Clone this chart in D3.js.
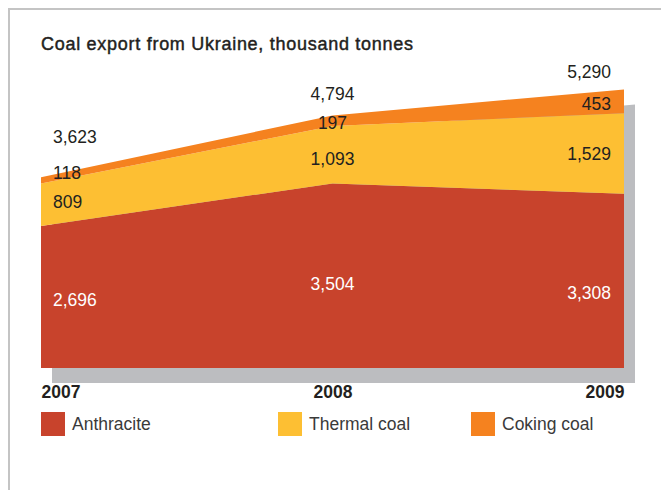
<!DOCTYPE html>
<html><head><meta charset="utf-8">
<script src="https://cdn.jsdelivr.net/npm/d3@7/dist/d3.min.js"></script>
<style>
body{margin:0;background:#fff;}
text{font-family:"Liberation Sans",Arial,sans-serif;}
</style></head>
<body><svg id="c" width="661" height="490"></svg>
<script>
const years = ["2007","2008","2009"];
const anthracite = [2696, 3504, 3308];
const thermal = [809, 1093, 1529];
const coking = [118, 197, 453];
const totals = [3623, 4794, 5290];
const seriesNames = ["Anthracite","Thermal coal","Coking coal"];
const colors = ["#C8432C","#FDBF33","#F5821F"];

const svg = d3.select("#c");
// frame
svg.append("line").attr("x1",9).attr("x2",661).attr("y1",9).attr("y2",9).attr("stroke","#c4c4c4").attr("stroke-width",2);
svg.append("line").attr("x1",9).attr("x2",9).attr("y1",8).attr("y2",490).attr("stroke","#c4c4c4").attr("stroke-width",2);

svg.append("text").attr("x",41).attr("y",50).attr("font-size",18).attr("fill","#231f20")
  .attr("stroke","#231f20").attr("stroke-width",0.45)
  .attr("textLength",372).attr("lengthAdjust","spacing")
  .text("Coal export from Ukraine, thousand tonnes");

const x = d3.scalePoint().domain(years).range([41,624]);
const y = d3.scaleLinear().domain([0,6000]).range([368,52]);

const rows = years.map((yr,i)=>({year:yr, a:anthracite[i], t:thermal[i], c:coking[i]}));
const stack = d3.stack().keys(["a","t","c"])(rows);

const area = d3.area().x(d=>x(d.data.year)).y0(d=>y(d[0])).y1(d=>y(d[1]));
// shadow
svg.append("path").datum(stack[2]).attr("d", d3.area().x(d=>x(d.data.year)).y0(y(0)).y1(d=>y(d[1])))
  .attr("fill","#bcbdc0").attr("transform","translate(11,15)");
svg.selectAll("path.layer").data(stack).join("path").attr("class","layer")
  .attr("d",area).attr("fill",(d,i)=>colors[i]);

// labels
const anchors = ["start","middle","end"];
const lx = i => i===0 ? x(years[0])+12 : i===2 ? x(years[2])-13 : x(years[1]);
// vertical nudges per year for [anthracite, thermal, coking, total]
const nudges = [[3,-3,-7,-40],[8,4,2,-22],[12,0,3,-18]];
const fmt = d3.format(",");
years.forEach((yr,i)=>{
  const vals = [anthracite[i], thermal[i], coking[i]];
  stack.forEach((s,k)=>{
    const mid = (y(s[i][0])+y(s[i][1]))/2 + nudges[i][k];
    svg.append("text").attr("x",lx(i)).attr("y",mid).attr("dy","0.35em")
      .attr("text-anchor",anchors[i]).attr("font-size",17.5)
      .attr("fill", k===0 ? "#fff" : "#231f20").text(fmt(vals[k]));
  });
  svg.append("text").attr("x",lx(i)).attr("y",y(totals[i])+nudges[i][3]).attr("dy","0.35em")
    .attr("text-anchor",anchors[i]).attr("font-size",17.5).attr("fill","#231f20").text(fmt(totals[i]));
});

// x axis labels
const xa = svg.append("g").attr("transform","translate(0,398)")
  .call(d3.axisBottom(x).tickSize(0).tickPadding(0));
xa.select(".domain").remove();
xa.selectAll("text").attr("y",0).attr("dy",0).attr("font-size",17.5).attr("font-weight","bold")
  .attr("fill","#231f20").attr("font-family","'Liberation Sans',Arial,sans-serif")
  .attr("text-anchor",(d,i)=>anchors[i]);

// legend
const legX = [41,278,471];
seriesNames.forEach((n,i)=>{
  svg.append("rect").attr("x",legX[i]).attr("y",412).attr("width",24).attr("height",24).attr("fill",colors[i]);
  svg.append("text").attr("x",legX[i]+31).attr("y",424).attr("dy","0.35em").attr("font-size",17.5)
    .attr("fill","#3a3a3a").text(n);
});
</script></body></html>
